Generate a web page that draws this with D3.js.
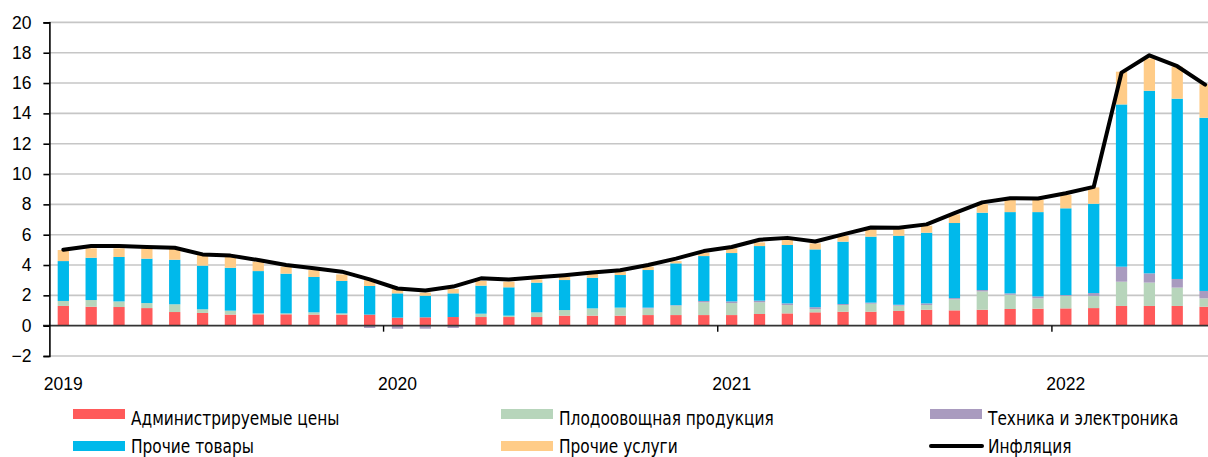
<!DOCTYPE html>
<html>
<head>
<meta charset="utf-8">
<script src="https://cdn.jsdelivr.net/npm/d3@7"></script>
<style>
    body { margin: 0; background: #fff; }
    #chart { width: 1208px; height: 457px; overflow: hidden; }
    text { font-family: "Liberation Sans", Arial, sans-serif; }
    .legend text { font-family: "DejaVu Sans Condensed", "Liberation Sans", sans-serif; }
</style>
</head>
<body>
<div id="chart"></div>
<script>

// месяцы: январь 2019 - июнь 2022
const years = [2019, 2020, 2021, 2022];
const months = [];
years.forEach(y => {
    for (let m = 0; m < 12; m++) {
        if (y === 2022 && m > 5) break;
        months.push(y + '-' + (m + 1));
    }
});

// вклады в инфляцию, п.п.
const adminPrices = [1.30, 1.25, 1.23, 1.16, 0.90, 0.84, 0.73, 0.75, 0.75, 0.73, 0.73, 0.73,
    0.53, 0.55, 0.57, 0.57, 0.57, 0.57, 0.66, 0.66, 0.66, 0.70, 0.70, 0.70,
    0.70, 0.77, 0.81, 0.88, 0.92, 0.92, 0.97, 1.05, 1.01, 1.05, 1.10, 1.12,
    1.14, 1.16, 1.30, 1.30, 1.30, 1.25];
const fruitVeg = [0.33, 0.44, 0.37, 0.33, 0.51, 0.24, 0.26, 0.06, 0.06, 0.15, 0.08, 0.00,
    0.00, 0.00, 0.00, 0.22, 0.09, 0.31, 0.37, 0.48, 0.53, 0.44, 0.62, 0.84,
    0.79, 0.77, 0.55, 0.21, 0.44, 0.53, 0.35, 0.31, 0.73, 1.21, 0.94, 0.68,
    0.82, 0.80, 1.60, 1.54, 1.21, 0.55];
const electronics = [0.00, 0.00, 0.00, 0.00, 0.00, 0.00, 0.00, 0.00, 0.00, 0.00, 0.00, -0.15,
    -0.20, -0.20, -0.15, 0.00, 0.00, 0.00, 0.00, 0.00, 0.00, 0.05, 0.03, 0.09,
    0.11, 0.11, 0.11, 0.13, 0.07, 0.07, 0.06, 0.11, 0.08, 0.09, 0.09, 0.13,
    0.06, 0.19, 0.99, 0.61, 0.57, 0.49];
const otherGoods = [2.63, 2.79, 2.93, 2.93, 2.94, 2.88, 2.83, 2.79, 2.62, 2.33, 2.14, 1.89,
    1.60, 1.43, 1.56, 1.85, 1.87, 1.96, 1.98, 2.02, 2.15, 2.48, 2.76, 2.96,
    3.19, 3.60, 3.85, 3.81, 4.11, 4.35, 4.55, 4.66, 4.95, 5.10, 5.36, 5.56,
    5.72, 5.89, 10.70, 12.04, 11.89, 11.42];
const otherServices = [0.73, 0.62, 0.57, 0.68, 0.75, 0.70, 0.73, 0.62, 0.46, 0.46, 0.43, 0.39,
    0.40, 0.20, 0.29, 0.31, 0.37, 0.21, 0.20, 0.25, 0.22, 0.22, 0.15, 0.22,
    0.31, 0.24, 0.37, 0.40, 0.39, 0.48, 0.42, 0.46, 0.57, 0.57, 0.80, 0.80,
    0.88, 1.08, 2.16, 2.14, 2.11, 2.22];
const inflation = [5.00, 5.25, 5.25, 5.19, 5.14, 4.70, 4.62, 4.33, 4.00, 3.78, 3.56, 3.05,
    2.45, 2.32, 2.58, 3.12, 3.05, 3.20, 3.33, 3.50, 3.65, 4.00, 4.42, 4.92,
    5.19, 5.67, 5.79, 5.55, 6.02, 6.47, 6.46, 6.68, 7.42, 8.13, 8.40, 8.39,
    8.73, 9.15, 16.69, 17.83, 17.11, 15.90];

const seriesKeys = ['admin', 'fruit', 'tech', 'goods', 'services'];
const seriesNames = ['Администрируемые цены', 'Плодоовощная продукция', 'Техника и электроника',
    'Прочие товары', 'Прочие услуги'];
const seriesColors = ['#ff5a5a', '#b7d5bb', '#a99bbf', '#00b9eb', '#ffcc88'];
const yTicks = [-2, 0, 2, 4, 6, 8, 10, 12, 14, 16, 18, 20];

let width = 1208;
let height = 457;

let svg = d3.select('#chart')
    .append('svg')
    .attr('width', width)
    .attr('height', height);

// таблица для stack
const table = months.map((m, i) => ({
    month: m,
    admin: adminPrices[i],
    fruit: fruitVeg[i],
    tech: electronics[i],
    goods: otherGoods[i],
    services: otherServices[i]
}));

const x = d3.scaleBand()
    .domain(months)
    .range([49.4, 1219])
    .paddingInner(0.595)
    .paddingOuter(0.2975);

const y = d3.scaleLinear()
    .domain([-2, 20])
    .range([356, 22.4]);

// сетка
svg.append('g')
    .selectAll('line')
    .data(yTicks.filter(t => t !== 0))
    .join('line')
    .attr('x1', 49)
    .attr('x2', width)
    .attr('y1', d => y(d))
    .attr('y2', d => y(d))
    .attr('stroke', '#c6c6c6')
    .attr('stroke-width', 1.6);

const stack = d3.stack()
    .keys(seriesKeys)
    .offset(d3.stackOffsetDiverging);
const stacked = stack(table);

svg.append('g')
    .selectAll('g')
    .data(stacked)
    .join('g')
    .attr('fill', (d, i) => seriesColors[i])
    .selectAll('rect')
    .data(d => d)
    .join('rect')
    .attr('x', d => x(d.data.month))
    .attr('width', x.bandwidth())
    .attr('y', d => y(Math.max(d[0], d[1])))
    .attr('height', d => Math.abs(y(d[0]) - y(d[1])));

// нулевая линия
svg.append('line')
    .attr('x1', 43)
    .attr('x2', width)
    .attr('y1', y(0))
    .attr('y2', y(0))
    .attr('stroke', '#333')
    .attr('stroke-width', 1.6);

// ось Y
const yAxis = d3.axisLeft(y)
    .tickValues(yTicks)
    .tickSize(6)
    .tickPadding(12)
    .tickFormat(d3.format('d'));

svg.append('g')
    .attr('transform', 'translate(49.4,0)')
    .call(yAxis)
    .call(g => g.select('.domain').attr('stroke', '#000').attr('stroke-width', 1.6))
    .call(g => g.selectAll('.tick line').attr('stroke', '#000').attr('stroke-width', 1.6))
    .call(g => g.selectAll('.tick text')
        .attr('fill', '#000')
        .style('font-size', '17.5px')
        .style('font-family', '"Liberation Sans", Arial, sans-serif'));

// ось X: засечки на границе годов, подписи под январём
const step = x.step();
svg.append('g')
    .selectAll('line')
    .data(years.slice(1))
    .join('line')
    .attr('x1', d => x(d + '-1') + x.bandwidth() / 2 - step / 2)
    .attr('x2', d => x(d + '-1') + x.bandwidth() / 2 - step / 2)
    .attr('y1', y(0))
    .attr('y2', y(0) + 6)
    .attr('stroke', '#000')
    .attr('stroke-width', 1.4);

svg.append('g')
    .selectAll('text')
    .data(years)
    .join('text')
    .attr('x', d => x(d + '-1') + x.bandwidth() / 2)
    .attr('y', 390)
    .attr('text-anchor', 'middle')
    .style('font-size', '17.5px')
    .text(d => d);

// инфляция
const line = d3.line()
    .x((d, i) => x(months[i]) + x.bandwidth() / 2)
    .y(d => y(d));

svg.append('path')
    .datum(inflation)
    .attr('d', line)
    .attr('fill', 'none')
    .attr('stroke', '#000')
    .attr('stroke-width', 4)
    .attr('stroke-linejoin', 'round')
    .attr('stroke-linecap', 'round');

// легенда
const legendItems = [
    { name: seriesNames[0], color: seriesColors[0], col: 0, row: 0 },
    { name: seriesNames[1], color: seriesColors[1], col: 1, row: 0 },
    { name: seriesNames[2], color: seriesColors[2], col: 2, row: 0 },
    { name: seriesNames[3], color: seriesColors[3], col: 0, row: 1 },
    { name: seriesNames[4], color: seriesColors[4], col: 1, row: 1 },
    { name: 'Инфляция', color: '#000', col: 2, row: 1, line: true }
];
const colX = [73, 501, 930];

let legend = svg.append('g').attr('class', 'legend');
legendItems.forEach(item => {
    const lx = colX[item.col];
    const ly = 409 + item.row * 32;
    if (item.line) {
        legend.append('line')
            .attr('x1', lx + 1)
            .attr('x2', lx + 52)
            .attr('y1', ly + 5)
            .attr('y2', ly + 5)
            .attr('stroke', '#000')
            .attr('stroke-width', 4)
            .attr('stroke-linecap', 'round');
    } else {
        legend.append('rect')
            .attr('x', lx)
            .attr('y', ly)
            .attr('width', 52)
            .attr('height', 10)
            .attr('fill', item.color);
    }
    // шрифт в оригинале узкий — сжимаем по горизонтали
    legend.append('text')
        .attr('transform', `translate(${lx + 58},${ly + (item.row ? 12 : 16)}) scale(0.9,1)`)
        .style('font-size', '19px')
        .attr('fill', '#000')
        .text(item.name);
});

</script>
</body>
</html>
